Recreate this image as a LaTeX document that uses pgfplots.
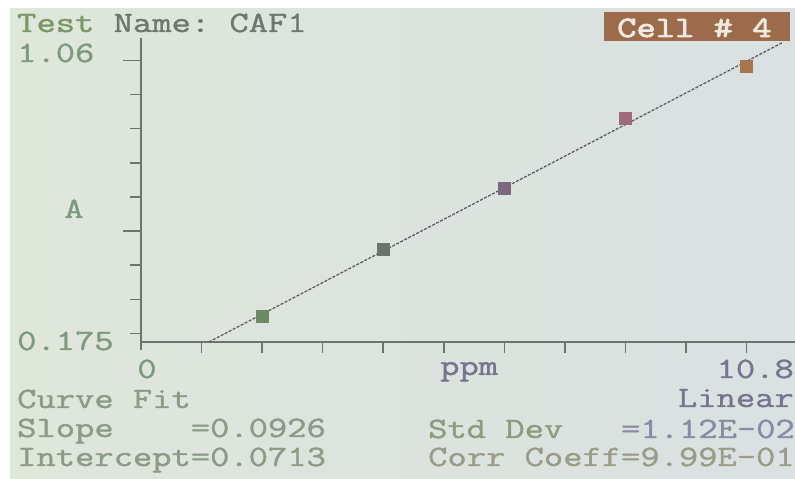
\documentclass[border=0pt]{standalone}
\usepackage{fontspec}
\newfontfamily\lcdfont{Latin Modern Mono}[FakeStretch=1.27, FakeBold=1.3]
\newfontfamily\lcdbold{Latin Modern Mono}[FakeStretch=1.27, FakeBold=3]
\usepackage{pgfplots}
\pgfplotsset{compat=1.18}
\definecolor{scrL}{HTML}{DFE6DA}
\definecolor{scrR}{HTML}{D9E1E2}
\definecolor{cellbrown}{HTML}{9C6B4B}
\definecolor{celltext}{HTML}{F1E9E0}
\definecolor{axc}{HTML}{6B746E}
\definecolor{fitc}{HTML}{5E5E62}
\definecolor{tgreen}{HTML}{7A9866}
\definecolor{tgrey}{HTML}{6D786A}
\definecolor{labc}{HTML}{7E9A7E}
\definecolor{purp}{HTML}{77748E}
\definecolor{botc}{HTML}{8A9B86}
\definecolor{sdc}{HTML}{8E9C7E}
\definecolor{sdv}{HTML}{8A8AA2}
\definecolor{ccc}{HTML}{9A9C88}
\definecolor{pA}{HTML}{6C8A66}
\definecolor{pB}{HTML}{69736F}
\definecolor{pC}{HTML}{7D6880}
\definecolor{pD}{HTML}{A06A78}
\definecolor{pE}{HTML}{A8764A}
\newcommand\lcd{\lcdfont\fontsize{29.5bp}{29.5bp}\selectfont\frenchspacing}
\begin{document}
\begin{tikzpicture}[x=1bp,y=1bp]
\useasboundingbox (0,0) rectangle (795,479);
\fill[white] (0,0) rectangle (795,479);
\shade[left color=scrL, right color=scrR] (10,0) rectangle (795,470);
\fill[cellbrown] (604,438) rectangle (790,467);
\begin{axis}[
  at={(141bp,137bp)}, anchor=south west,
  scale only axis, width=654bp, height=304.4bp,
  xmin=0, xmax=10.8, ymin=0.175, ymax=1.067,
  axis lines=left,
  axis line style={-, draw=axc, line width=1.5bp},
  xtick={1,2,3,4,5,6,7,8,9,10}, xticklabels={},
  ytick={0.2,0.3,0.4,0.6,0.7,0.8,0.9}, yticklabels={},
  extra y ticks={0.5,1.0}, extra y tick labels={},
  extra y tick style={major tick length=18bp},
  tick align=outside, major tick length=11bp,
  tick style={draw=axc, line width=1.5bp},
  clip=false,
]
\addplot[fitc, line width=1.3bp, dash pattern=on 3bp off 1.5bp] coordinates {(1.12,0.175) (10.6,1.053)};
\addplot[only marks, mark=square*, mark size=6bp, mark options={fill=pA, draw=pA}] coordinates {(2,0.250)};
\addplot[only marks, mark=square*, mark size=6bp, mark options={fill=pB, draw=pB}] coordinates {(4,0.446)};
\addplot[only marks, mark=square*, mark size=6bp, mark options={fill=pC, draw=pC}] coordinates {(6,0.625)};
\addplot[only marks, mark=square*, mark size=6bp, mark options={fill=pD, draw=pD}] coordinates {(8,0.831)};
\addplot[only marks, mark=square*, mark size=6bp, mark options={fill=pE, draw=pE}] coordinates {(10,0.984)};
\end{axis}
\draw[axc, line width=1.5bp] (141,137) -- (141,129);
\begin{scope}[every node/.style={inner sep=0pt, font=\lcd}]
\node[anchor=base west] at (17,447) {\textcolor{tgreen}{Test}~\textcolor{tgrey}{Name:~CAF1}};
\node[anchor=base west, text=celltext] at (617,442) {\lcdbold\fontsize{29.5bp}{29.5bp}\selectfont Cell~\#~4};
\node[anchor=base west, text=labc] at (17,417) {1.06};
\node[anchor=base west, text=labc] at (17,129) {0.175};
\node[anchor=base, text=labc] at (74,261) {A};
\node[anchor=base, text=labc] at (147,101) {0};
\node[anchor=base west, text=purp] at (440,104) {ppm};
\node[anchor=base east, text=purp] at (794,101) {10.8};
\node[anchor=base east, text=purp] at (794,72) {Linear};
\node[anchor=base west, text=botc] at (17,71) {Curve~Fit};
\node[anchor=base west, text=botc] at (17,42) {Slope~~~~=0.0926};
\node[anchor=base west, text=botc] at (17,13) {Intercept=0.0713};
\node[anchor=base west] at (428,41) {\textcolor{sdc}{Std~Dev}~~~\textcolor{sdv}{=1.12E-02}};
\node[anchor=base west, text=ccc] at (428,13) {Corr~Coeff=9.99E-01};
\end{scope}
\end{tikzpicture}
\end{document}
